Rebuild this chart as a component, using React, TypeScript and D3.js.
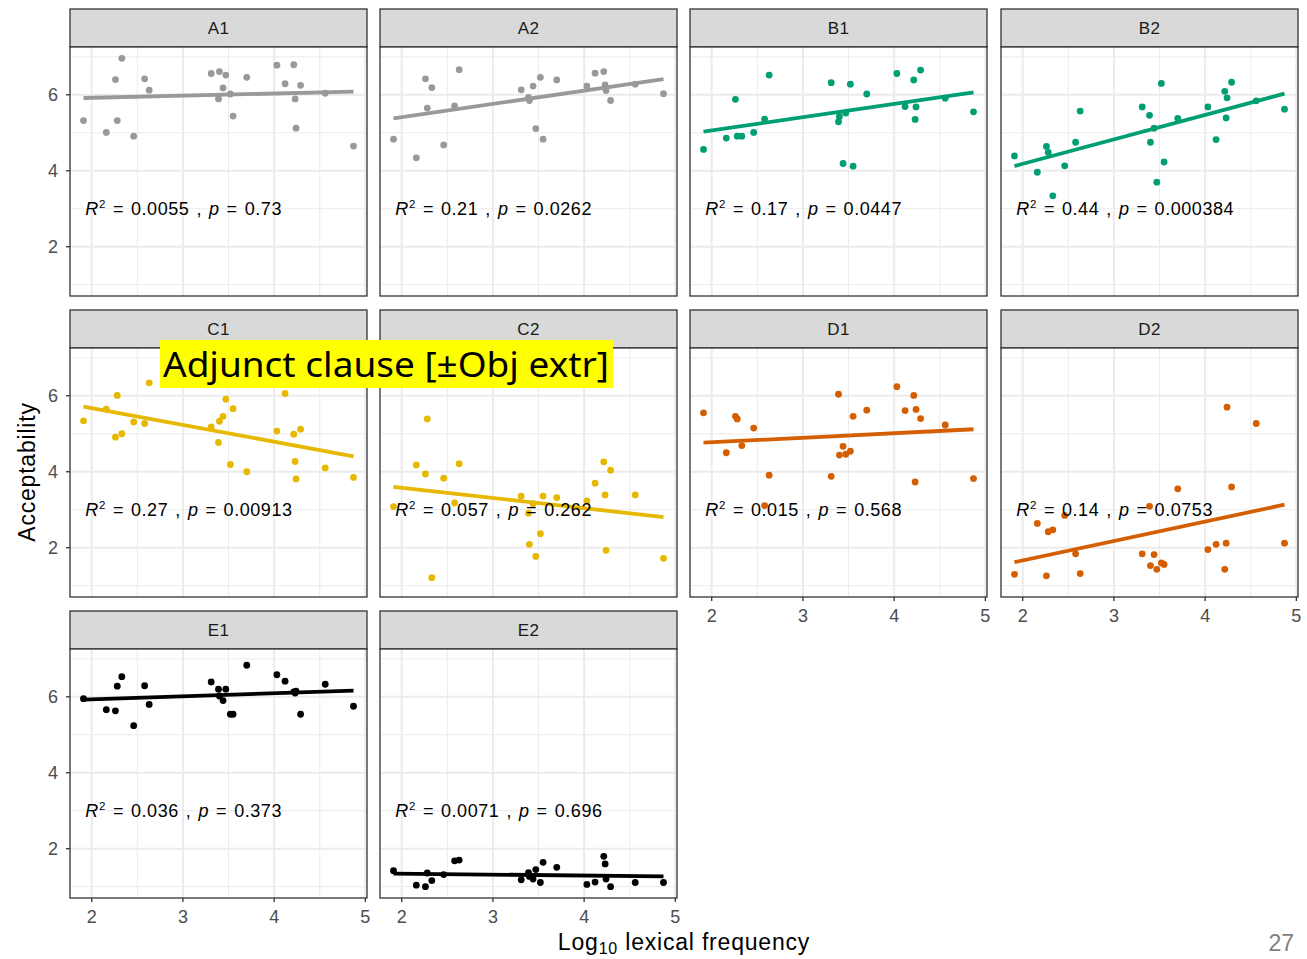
import React from 'react';
import * as d3 from 'd3';

// ---------- data ----------
const conditions = ['A1', 'A2', 'B1', 'B2', 'C1', 'C2', 'D1', 'D2', 'E1', 'E2'];
const conditionColors = ['#999999', '#999999', '#009E73', '#009E73', '#E7B800', '#E7B800', '#D55E00', '#D55E00', '#000000', '#000000'];
const logFrequency = [1.91, 2.16, 2.26, 2.28, 2.33, 2.46, 2.58, 2.63, 3.31, 3.39, 3.40, 3.44, 3.47, 3.52, 3.55, 3.70, 4.03, 4.12, 4.215, 4.23, 4.24, 4.29, 4.56, 4.87];
const accA1 = [5.32, 5.01, 6.40, 5.32, 6.96, 4.91, 6.42, 6.12, 6.56, 5.89, 6.61, 6.18, 6.52, 6.02, 5.44, 6.46, 6.78, 6.29, 6.79, 5.89, 5.12, 6.25, 6.04, 4.65];
const accA2 = [4.83, 4.34, 6.42, 5.65, 6.19, 4.68, 5.71, 6.66, 6.13, 5.93, 5.85, 6.23, 5.11, 6.46, 4.83, 6.39, 6.23, 6.57, 6.61, 6.26, 6.11, 5.85, 6.28, 6.03];
const accB1 = [4.56, 4.86, 5.88, 4.91, 4.91, 5.01, 5.36, 6.52, 6.32, 5.29, 5.43, 4.19, 5.52, 6.28, 4.12, 6.02, 6.56, 5.69, 6.39, 5.35, 5.68, 6.65, 5.91, 5.55];
const accB2 = [4.39, 3.96, 4.64, 4.48, 3.34, 4.13, 4.75, 5.57, 5.68, 5.46, 4.75, 5.12, 3.70, 6.30, 4.23, 5.38, 5.68, 4.82, 6.09, 5.39, 5.92, 6.33, 5.84, 5.62];
const accC1 = [5.34, 5.65, 4.91, 6.01, 5.00, 5.31, 5.27, 6.34, 5.18, 4.77, 5.33, 5.46, 5.91, 4.19, 5.66, 4.00, 5.07, 6.06, 4.99, 4.27, 3.81, 5.12, 4.10, 3.85];
const accC2 = [3.08, 4.18, 3.94, 5.39, 1.21, 3.83, 3.18, 4.21, 3.36, 2.91, 2.09, 3.16, 1.77, 2.37, 3.36, 3.32, 3.23, 3.70, 4.26, 3.39, 1.93, 4.04, 3.39, 1.72];
const accD1 = [5.55, 4.50, 5.46, 5.39, 4.69, 5.15, 3.11, 3.91, 3.88, 6.04, 4.44, 4.67, 4.46, 4.54, 5.46, 5.62, 6.24, 5.61, 6.01, 3.73, 5.64, 5.40, 5.23, 3.82];
const accD2 = [1.30, 2.64, 1.26, 2.42, 2.47, 2.85, 1.84, 1.32, 1.84, 3.09, 1.53, 1.82, 1.43, 1.60, 1.56, 3.55, 1.95, 2.09, 1.43, 2.12, 5.70, 3.60, 5.27, 2.12];
const accE1 = [5.95, 5.66, 5.63, 6.28, 6.53, 5.24, 6.29, 5.80, 6.39, 6.20, 6.02, 5.90, 6.20, 5.54, 5.54, 6.83, 6.58, 6.41, 6.13, 6.10, 6.15, 5.54, 6.33, 5.75];
const accE2 = [1.42, 1.04, 1.00, 1.36, 1.16, 1.32, 1.68, 1.70, 1.18, 1.37, 1.27, 1.20, 1.45, 1.11, 1.64, 1.51, 1.06, 1.12, 1.80, 1.60, 1.20, 1.00, 1.11, 1.11];
const acceptability = [accA1, accA2, accB1, accB2, accC1, accC2, accD1, accD2, accE1, accE2];
const rSquared = ['0.0055', '0.21', '0.17', '0.44', '0.27', '0.057', '0.015', '0.14', '0.036', '0.0071'];
const pValues = ['0.73', '0.0262', '0.0447', '0.000384', '0.00913', '0.262', '0.568', '0.0753', '0.373', '0.696'];
const xTicks = [2, 3, 4, 5];
const xMinor = [2.5, 3.5, 4.5];
const yTicks = [2, 4, 6];
const yMinor = [1, 3, 5, 7];
const labelX = 1.93;
const labelY = 3;

// ---------- layout ----------
const W = 1307, H = 959;
const colX = [70, 380, 690, 1001];
const rowY = [9, 310, 611];
const panelW = 297, stripH = 38, plotH = 249;
const FONT = 'Liberation Sans, Arial, sans-serif';

function fit(xs: number[], ys: number[]) {
  const mx = d3.mean(xs)!, my = d3.mean(ys)!;
  let sxy = 0, sxx = 0;
  xs.forEach((x, i) => { sxy += (x - mx) * (ys[i] - my); sxx += (x - mx) ** 2; });
  const b = sxy / sxx;
  return { a: my - b * mx, b };
}

export default function App() {
  const allY = acceptability.flat();
  const [x0, x1] = d3.extent(logFrequency) as [number, number];
  const [y0, y1] = d3.extent(allY) as [number, number];
  const xe = (x1 - x0) * 0.05, ye = (y1 - y0) * 0.05;
  const xScale = d3.scaleLinear().domain([x0 - xe, x1 + xe]).range([0, panelW]);
  const yScale = d3.scaleLinear().domain([y0 - ye, y1 + ye]).range([plotH, 0]);

  return (
    <svg width={W} height={H} style={{ position: 'absolute', left: 0, top: 0, background: '#fff' }} fontFamily={FONT}>
      {conditions.map((c, i) => {
        const row = Math.floor(i / 4), col = i % 4;
        const px = colX[col], py = rowY[row];
        const ys = acceptability[i];
        const color = conditionColors[i];
        const { a, b } = fit(logFrequency, ys);
        const lx0 = d3.min(logFrequency)!, lx1 = d3.max(logFrequency)!;
        const showX = row === 2 || (row === 1 && col >= 2);
        const showY = col === 0;
        return (
          <g key={c} transform={`translate(${px},${py})`}>
            <rect x={0} y={0} width={panelW} height={stripH} fill="#D9D9D9" stroke="#333333" strokeWidth={1.3} />
            <text x={panelW / 2} y={stripH / 2} dy="0.36em" textAnchor="middle" fontSize={17} letterSpacing={0.3} fill="#1A1A1A">{c}</text>
            <g transform={`translate(0,${stripH})`}>
              <rect x={0} y={0} width={panelW} height={plotH} fill="#fff" />
              {xMinor.map(v => <line key={'xm' + v} x1={xScale(v)} x2={xScale(v)} y1={0} y2={plotH} stroke="#EBEBEB" strokeWidth={1} />)}
              {yMinor.map(v => <line key={'ym' + v} y1={yScale(v)} y2={yScale(v)} x1={0} x2={panelW} stroke="#EBEBEB" strokeWidth={1} />)}
              {xTicks.map(v => <line key={'xg' + v} x1={xScale(v)} x2={xScale(v)} y1={0} y2={plotH} stroke="#EBEBEB" strokeWidth={2} />)}
              {yTicks.map(v => <line key={'yg' + v} y1={yScale(v)} y2={yScale(v)} x1={0} x2={panelW} stroke="#EBEBEB" strokeWidth={2} />)}
              {logFrequency.map((x, k) => (
                <circle key={k} cx={xScale(x)} cy={yScale(ys[k])} r={3.4} fill={color} />
              ))}
              <line x1={xScale(lx0)} y1={yScale(a + b * lx0)} x2={xScale(lx1)} y2={yScale(a + b * lx1)} stroke={color} strokeWidth={3.8} />
              <text x={xScale(labelX)} y={yScale(labelY)} dy="0.36em" fontSize={18} letterSpacing={0.55} wordSpacing={1.5} fill="#000">
                <tspan fontStyle="italic">R</tspan>
                <tspan fontSize={11.5} dy={-7}>2</tspan>
                <tspan dy={7}>{` = ${rSquared[i]} , `}</tspan>
                <tspan fontStyle="italic">p</tspan>
                <tspan>{` = ${pValues[i]}`}</tspan>
              </text>
              <rect x={0} y={0} width={panelW} height={plotH} fill="none" stroke="#333333" strokeWidth={1.3} />
              {showY && yTicks.map(v => (
                <g key={'yt' + v}>
                  <line x1={-4} x2={0} y1={yScale(v)} y2={yScale(v)} stroke="#333333" strokeWidth={1.3} />
                  <text x={-12} y={yScale(v)} dy="0.36em" textAnchor="end" fontSize={18} fill="#4D4D4D">{v}</text>
                </g>
              ))}
              {showX && xTicks.map(v => (
                <g key={'xt' + v}>
                  <line x1={xScale(v)} x2={xScale(v)} y1={plotH} y2={plotH + 4} stroke="#333333" strokeWidth={1.3} />
                  <text x={xScale(v)} y={plotH + 12} dy="0.72em" textAnchor="middle" fontSize={18} fill="#4D4D4D">{v}</text>
                </g>
              ))}
            </g>
          </g>
        );
      })}
      <text transform={`translate(35,472) rotate(-90)`} textAnchor="middle" fontSize={23} letterSpacing={0.8} fill="#000">Acceptability</text>
      <text x={684} y={950} textAnchor="middle" fontSize={23} letterSpacing={0.8} fill="#000">
        Log<tspan fontSize={16} dy={4}>10</tspan><tspan dy={-4}> lexical frequency</tspan>
      </text>
      <text x={1294} y={951} textAnchor="end" fontSize={23} fill="#808080">27</text>
      <rect x={160} y={340} width={453} height={48} fill="#FFFF00" />
      <text x={163} y={364} dy="0.36em" fontSize={35} fill="#000" fontFamily="Noto Sans, sans-serif" textLength={446} lengthAdjust="spacingAndGlyphs">Adjunct clause [±Obj extr]</text>
    </svg>
  );
}
